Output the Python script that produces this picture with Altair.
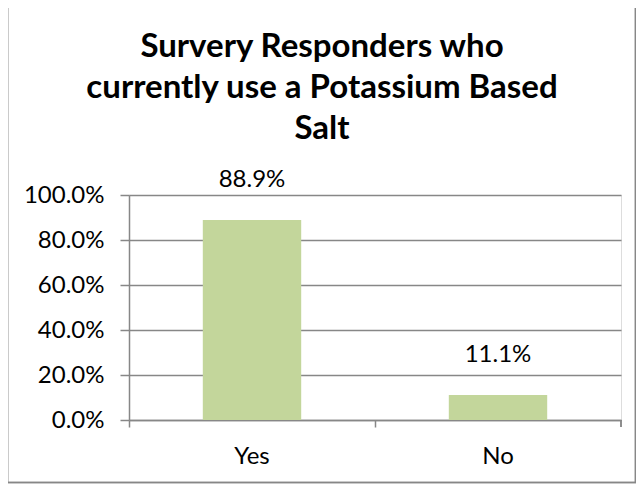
import altair as alt
import pandas as pd

categories = ["Yes", "No"]
values = [0.889, 0.111]
value_labels = ["88.9%", "11.1%"]
y_ticks = [0.0, 0.2, 0.4, 0.6, 0.8, 1.0]
title_lines = ["Survery Responders who", "currently use a Potassium Based", "Salt"]

df = pd.DataFrame({"cat": categories, "val": values, "lbl": value_labels})

W, H = 492, 225
GRAY = "#878787"
FONT = "Lato"
FS = 24

x_enc = alt.X(
    "cat:N", sort=categories, title=None,
    scale=alt.Scale(paddingInner=0.6, paddingOuter=0.3),
    axis=alt.Axis(labelAngle=0, labelFont=FONT, labelFontSize=FS, labelColor="black",
                  domainColor=GRAY, domainWidth=1.5, tickColor=GRAY, tickWidth=1.5,
                  tickSize=7, bandPosition=-0.75, labelPadding=36, labelBaseline="alphabetic",
                  grid=False),
)
y_enc = alt.Y(
    "val:Q", title=None,
    scale=alt.Scale(domain=[0, 1], nice=False),
    axis=alt.Axis(format=".1%", values=y_ticks, labelFont=FONT, labelFontSize=FS,
                  labelColor="black", domainColor=GRAY, domainWidth=1.5, tickColor=GRAY,
                  tickWidth=1.5, tickSize=9, labelPadding=16, grid=True, gridColor=GRAY,
                  gridWidth=1.5),
)

base = alt.Chart(df)
bars = base.mark_bar(color="#C3D69B").encode(x=x_enc, y=y_enc)
texts = base.mark_text(font=FONT, fontSize=FS, color="black", baseline="alphabetic", dy=-33).encode(
    x=alt.X("cat:N", sort=categories), y=alt.Y("val:Q"), text="lbl:N"
)
end_tick = base.mark_rule(color=GRAY, strokeWidth=1.5).encode(
    x=alt.value(W), y=alt.value(H), y2=alt.value(H + 7)
)
border = base.mark_rect(fill=None, stroke=GRAY, strokeWidth=1.5).encode(
    x=alt.value(-121.5), x2=alt.value(W + 14.5), y=alt.value(-189.5), y2=alt.value(H + 62.5)
)

chart = alt.layer(bars, texts, end_tick, border).properties(
    width=W, height=H,
    padding={"left": 121, "top": 187, "right": 15, "bottom": 64},
    autosize=alt.AutoSizeParams(type="none"),
    title=alt.TitleParams(text=title_lines, font=FONT, fontSize=33, fontWeight="bold",
                          color="black", lineHeight=41, anchor="middle", dx=-53,
                          offset=-141),
).configure_view(stroke=None).configure(background="white")

chart.save("out.html", embed_options={"renderer": "svg", "actions": False})
